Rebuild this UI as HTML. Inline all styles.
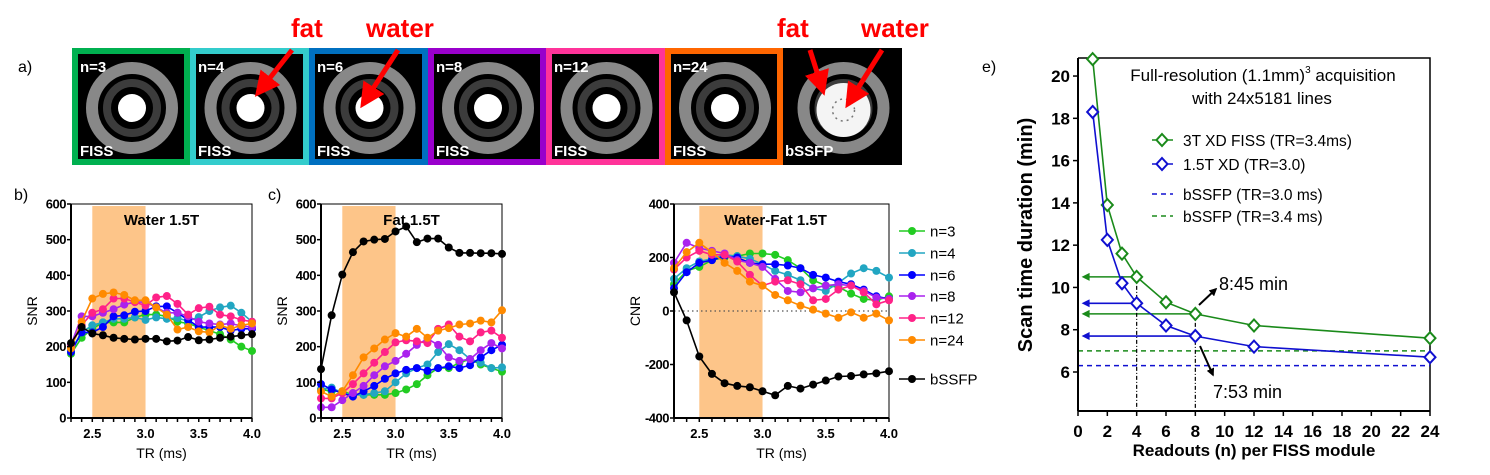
<!DOCTYPE html>
<html><head><meta charset="utf-8">
<style>
html,body{margin:0;padding:0;background:#fff;}
svg{display:block;font-family:"Liberation Sans",Arial,sans-serif;}
</style></head>
<body>
<svg id="fig" width="1490" height="475" viewBox="0 0 1490 475" xmlns="http://www.w3.org/2000/svg">
<defs>
<marker id="ah" viewBox="0 0 10 10" refX="8" refY="5" markerWidth="5" markerHeight="5" orient="auto"><path d="M0,0 L10,5 L0,10 z" fill="#f00"/></marker>
<marker id="ahk" viewBox="0 0 10 10" refX="8" refY="5" markerWidth="4" markerHeight="4" orient="auto"><path d="M0,0 L10,5 L0,10 z" fill="#000"/></marker>
<marker id="ahg" viewBox="0 0 10 10" refX="2" refY="5" markerWidth="6" markerHeight="5" orient="auto-start-reverse"><path d="M0,0 L10,5 L0,10 z" fill="#1a8a1a"/></marker>
<marker id="ahb" viewBox="0 0 10 10" refX="2" refY="5" markerWidth="6" markerHeight="5" orient="auto-start-reverse"><path d="M0,0 L10,5 L0,10 z" fill="#1010d0"/></marker>
</defs>
<text x="18" y="72" font-size="16">a)</text>
<text x="14" y="200" font-size="16">b)</text>
<text x="268" y="200" font-size="16">c)</text>
<text x="982" y="72" font-size="16">e)</text>
<g id="mr"></g>
<g font-weight="bold" font-size="26" fill="#f00">
<text x="291" y="37">fat</text>
<text x="366" y="37">water</text>
<text x="777" y="37">fat</text>
<text x="861" y="37">water</text>
<line x1="292" y1="50" x2="258" y2="93" stroke="#f00" stroke-width="5" marker-end="url(#ah)"/>
<line x1="398" y1="50" x2="363" y2="104" stroke="#f00" stroke-width="5" marker-end="url(#ah)"/>
<line x1="810" y1="50" x2="823" y2="91" stroke="#f00" stroke-width="5" marker-end="url(#ah)"/>
<line x1="882" y1="50" x2="848" y2="104" stroke="#f00" stroke-width="5" marker-end="url(#ah)"/>
</g>
<g id="cb"></g><g id="cc"></g><g id="cd"></g><g id="ce"></g>
</svg>
<script>
const NS="http://www.w3.org/2000/svg";
// ---- data ----
const trValues=[2.3,2.4,2.5,2.6,2.7,2.8,2.9,3.0,3.1,3.2,3.3,3.4,3.5,3.6,3.7,3.8,3.9,4.0];
const seriesNames=["n=3","n=4","n=6","n=8","n=12","n=24","bSSFP"];
const water_n3=[180,225,250,268,268,268,282,290,290,285,270,265,255,245,235,220,200,188];
const water_n4=[190,240,260,268,278,278,282,275,282,278,280,272,283,300,310,315,295,270];
const water_n6=[185,240,240,255,285,288,298,300,313,313,295,275,255,255,255,245,250,250];
const water_n8=[205,285,285,295,305,318,325,325,310,295,295,285,270,265,262,265,258,255];
const water_n12=[200,260,295,305,335,335,325,315,338,342,320,290,308,312,290,285,275,270];
const water_n24=[195,270,335,348,352,345,330,330,310,290,248,255,243,240,260,250,260,265];
const water_bssfp=[210,255,237,232,225,222,220,222,222,215,217,227,218,220,225,228,232,235];
const fat_n3=[80,75,75,65,65,65,65,70,80,95,120,140,140,155,165,150,140,130];
const fat_n4=[80,85,70,65,65,70,75,100,125,140,150,185,207,190,165,155,140,142];
const fat_n6=[95,80,70,60,75,90,110,125,135,140,132,140,145,140,148,170,190,205];
const fat_n8=[30,30,50,70,90,120,145,160,180,205,222,205,170,160,165,190,210,195];
const fat_n12=[55,55,70,95,125,155,185,212,218,215,210,250,262,228,215,240,245,225];
const fat_n24=[75,60,75,120,170,195,220,238,228,250,225,245,252,262,265,273,268,302];
const fat_bssfp=[137,288,402,465,495,500,502,523,537,493,503,503,478,463,463,462,462,460];
const cnr_n3=[100,150,165,190,200,205,215,215,210,190,160,115,95,90,65,45,40,55];
const cnr_n4=[120,160,185,195,210,205,195,175,150,135,115,85,75,105,140,160,150,125];
const cnr_n6=[85,145,180,190,205,200,180,175,175,170,160,135,125,110,100,80,55,45];
const cnr_n8=[180,255,235,225,215,190,180,165,120,75,70,85,95,100,95,75,50,45];
const cnr_n12=[155,200,225,210,210,185,135,95,110,115,100,40,45,80,95,70,25,40];
const cnr_n24=[160,220,255,220,180,150,110,95,60,40,20,5,-10,-25,-5,-25,-10,-35];
const cnr_bssfp=[70,-35,-170,-235,-270,-280,-285,-300,-315,-280,-290,-275,-260,-245,-243,-237,-233,-225];
const snrTicks=[0,100,200,300,400,500,600];
const cnrTicks=[-400,-200,0,200,400];
const trTicks=[2.5,3.0,3.5,4.0];
const readoutN=[1,2,3,4,6,8,12,24];
const scan3T=[20.8,13.9,11.6,10.5,9.3,8.75,8.2,7.6];
const scan15T=[18.3,12.25,10.2,9.25,8.2,7.7,7.2,6.7];
const bssfp30=6.3;
const bssfp34=7.0;
const eXTicks=[0,2,4,6,8,10,12,14,16,18,20,22,24];
const eYTicks=[6,8,10,12,14,16,18,20];
const mrLabels=["n=3","n=4","n=6","n=8","n=12","n=24",""];
const mrBottom=["FISS","FISS","FISS","FISS","FISS","FISS","bSSFP"];
// ---- helpers ----
function mk(tag,attrs,parent){const e=document.createElementNS(NS,tag);for(const k in attrs)e.setAttribute(k,attrs[k]);if(parent)parent.appendChild(e);return e;}
const colors=["#22cc22","#22a6c2","#0000ff","#aa22ee","#ff2288","#ff8a00","#000000"];

// ---- MR strip ----
const mr=document.getElementById('mr');
const frameCols=["#00b050","#33cccc","#0070c0","#9900cc","#ff3399","#ff6600",null];
const frameX=[72,190,309,428,546,665,783];
for(let i=0;i<7;i++){
  const x0=frameX[i],w=(i<6?frameX[i+1]:902)-x0;
  const g=mk('g',{},mr);
  
  
  if(frameCols[i]) mk('rect',{x:x0,y:48,width:w,height:117,fill:frameCols[i]},g);
  const b=frameCols[i]?6:0;
  mk('rect',{x:x0+b,y:48+b,width:w-2*b,height:117-2*b,fill:'#000'},g);
  const cx=x0+w/2+1,cy=108;
  mk('circle',{cx:cx,cy:cy,r:40,fill:'none',stroke:'#888','stroke-width':12},g);
  mk('circle',{cx:cx,cy:cy,r:25,fill:'none',stroke:'#3c3c3c','stroke-width':8},g);
  if(i==6){mk('circle',{cx:cx,cy:cy+2,r:27,fill:'#f4f4f4'},g);
    mk('circle',{cx:cx,cy:cy+2,r:11,fill:'none',stroke:'#777','stroke-width':1.5,'stroke-dasharray':'2 4'},g);}
  else mk('circle',{cx:cx,cy:cy,r:14,fill:'#fff'},g);
  const t1=mk('text',{x:x0+b+2,y:72,fill:'#fff','font-size':15,'font-weight':'bold'},g);t1.textContent=mrLabels[i];
  
  
  const t2=mk('text',{x:x0+b+2,y:156,fill:'#fff','font-size':15,'font-weight':'bold'},g);t2.textContent=mrBottom[i];
  
  
}

// ---- TR charts ----
function trChart(gid,px0,px1,py0,py1,ymin,ymax,yticks,series,title,ylab,zeroLine){
  const g=document.getElementById(gid);
  
  
  const X=v=>px0+(v-2.3)/(4.0-2.3)*(px1-px0);
  const Y=v=>py1-(v-ymin)/(ymax-ymin)*(py1-py0);
  const sh=mk('rect',{x:X(2.5),y:py0+2,width:X(3.0)-X(2.5),height:py1-py0-2,fill:'#fdc589'},g);
  
  
  mk('path',{d:`M${px0},${py0}H${px1}V${py1}`,fill:'none',stroke:'#000','stroke-width':1},g);
  if(zeroLine){const z=mk('line',{x1:px0,x2:px1,y1:Y(0),y2:Y(0),stroke:'#555','stroke-width':1.2,'stroke-dasharray':'1.5 3'},g);
    
    }
  const ttl=mk('text',{x:(px0+px1)/2+(gid=='cd'?-6:0),y:py0+21,'text-anchor':'middle','font-size':15,'font-weight':'bold'},g);ttl.textContent=title;
  
  
  series.forEach((s,si)=>{
    const sg=mk('g',{},g);
    
    
    const d=s.map((v,i)=>(i?'L':'M')+X(trValues[i]).toFixed(1)+','+Y(v).toFixed(1)).join('');
    mk('path',{d:d,fill:'none',stroke:colors[si],'stroke-width':1.6},sg);
    s.forEach((v,i)=>{const c=mk('circle',{cx:X(trValues[i]),cy:Y(v),r:4,fill:colors[si]},sg);
      
      });
  });
  const ax=mk('g',{},g);
  
  
  mk('line',{x1:px0,x2:px0,y1:py0,y2:py1,stroke:'#000','stroke-width':2},ax);
  mk('line',{x1:px0,x2:px1,y1:py1,y2:py1,stroke:'#000','stroke-width':2},ax);
  trValues.forEach(v=>mk('line',{x1:X(v),x2:X(v),y1:py1,y2:py1+4,stroke:'#000','stroke-width':1.5},ax));
  yticks.forEach(v=>{mk('line',{x1:px0-4,x2:px0,y1:Y(v),y2:Y(v),stroke:'#000','stroke-width':1.5},ax);
    const t=mk('text',{x:px0-5,y:Y(v)+4.5,'text-anchor':'end','font-size':13,'font-weight':'bold','letter-spacing':'-0.5'},ax);t.textContent=v;
    
    });
  trTicks.forEach(v=>{const t=mk('text',{x:X(v),y:py1+20,'text-anchor':'middle','font-size':13,'font-weight':'bold'},ax);t.textContent=v.toFixed(1);
    
    });
  const xl=mk('text',{x:(px0+px1)/2,y:py1+40,'text-anchor':'middle','font-size':14},ax);xl.textContent='TR (ms)';
  
  
  const yx=px0-34,yy=(py0+py1)/2;
  const yl=mk('text',{x:yx,y:yy,'text-anchor':'middle','font-size':14,transform:`rotate(-90 ${yx} ${yy})`},ax);yl.textContent=ylab;
  
  
}
trChart('cb',71,252,204,418,0,600,snrTicks,[water_n3,water_n4,water_n6,water_n8,water_n12,water_n24,water_bssfp],'Water 1.5T','SNR',false);
trChart('cc',321,502,204,418,0,600,snrTicks,[fat_n3,fat_n4,fat_n6,fat_n8,fat_n12,fat_n24,fat_bssfp],'Fat 1.5T','SNR',false);
trChart('cd',674,889,204,418,-400,400,cnrTicks,[cnr_n3,cnr_n4,cnr_n6,cnr_n8,cnr_n12,cnr_n24,cnr_bssfp],'Water-Fat 1.5T','CNR',true);
(function(){
  const g=mk('g',{},document.getElementById('fig'));
  
  
  const ys=[231,253,275,296,318,340,379];
  seriesNames.forEach((n,i)=>{
    const e=mk('g',{},g);
    
    
    mk('line',{x1:899,x2:925,y1:ys[i],y2:ys[i],stroke:colors[i],'stroke-width':1.6},e);
    mk('circle',{cx:912,cy:ys[i],r:4,fill:colors[i]},e);
    const t=mk('text',{x:930,y:ys[i]+5.5,'font-size':15},e);t.textContent=n;
  });
})();

// ---- panel e ----
(function(){
  const g=document.getElementById('ce');
  
  
  const px0=1078,px1=1430,py0=58,py1=411;
  const X=v=>px0+v/24*(px1-px0);
  const Y=v=>372-(v-6)*21.14;
  const gC='#1a8a1a',bC='#1010d0';
  mk('path',{d:`M${px0},${py0}H${px1}V${py1}`,fill:'none',stroke:'#000','stroke-width':1.5},g);
  const d1=mk('line',{x1:px0,x2:px1,y1:Y(bssfp34),y2:Y(bssfp34),stroke:gC,'stroke-width':1.5,'stroke-dasharray':'5 4'},g);
  
  
  const d2=mk('line',{x1:px0,x2:px1,y1:Y(bssfp30),y2:Y(bssfp30),stroke:bC,'stroke-width':1.5,'stroke-dasharray':'5 4'},g);
  
  
  [[3,scan3T,gC,'ahg'],[5,scan3T,gC,'ahg'],[3,scan15T,bC,'ahb'],[5,scan15T,bC,'ahb']].forEach(([idx,arr,c,m])=>{
    const l=mk('line',{x1:X(readoutN[idx]),x2:px0+10,y1:Y(arr[idx]),y2:Y(arr[idx]),stroke:c,'stroke-width':1.6,'marker-end':`url(#${m})`},g);
    
    
  });
  [[3,scan3T],[5,scan3T]].forEach(([idx,arr])=>{
    const l=mk('line',{x1:X(readoutN[idx]),x2:X(readoutN[idx]),y1:Y(arr[idx]),y2:py1-2,stroke:'#000','stroke-width':1.2,'stroke-dasharray':'4 2 1 2'},g);
    
    
  });
  [[scan3T,gC,'series-3t-xd-fiss'],[scan15T,bC,'series-1.5t-xd']].forEach(([arr,c,nm])=>{
    const sg=mk('g',{},g);
    
    
    mk('path',{d:arr.map((v,i)=>(i?'L':'M')+X(readoutN[i]).toFixed(1)+','+Y(v).toFixed(1)).join(''),fill:'none',stroke:c,'stroke-width':1.6},sg);
    arr.forEach((v,i)=>{const x=X(readoutN[i]),y=Y(v);
      const p=mk('path',{d:`M${x},${y-6}L${x+5.5},${y}L${x},${y+6}L${x-5.5},${y}Z`,fill:'#fff',stroke:c,'stroke-width':2},sg);
      
      });
  });
  mk('line',{x1:px0,x2:px0,y1:py0,y2:py1,stroke:'#000','stroke-width':2},g);
  mk('line',{x1:px0,x2:px1,y1:py1,y2:py1,stroke:'#000','stroke-width':2},g);
  eXTicks.forEach(v=>{mk('line',{x1:X(v),x2:X(v),y1:py1,y2:py1+5,stroke:'#000','stroke-width':1.5},g);
    const t=mk('text',{x:X(v),y:py1+26,'text-anchor':'middle','font-size':17,'font-weight':'bold'},g);t.textContent=v;
    
    });
  eYTicks.forEach(v=>{mk('line',{x1:px0-5,x2:px0,y1:Y(v),y2:Y(v),stroke:'#000','stroke-width':1.5},g);
    const t=mk('text',{x:px0-8,y:Y(v)+6,'text-anchor':'end','font-size':17,'font-weight':'bold'},g);t.textContent=v;
    
    });
  const xl=mk('text',{x:1254,y:456,'text-anchor':'middle','font-size':17,'font-weight':'bold'},g);xl.textContent='Readouts (n) per FISS module';
  
  
  const yl=mk('text',{x:1032,y:235,'text-anchor':'middle','font-size':20,'font-weight':'bold',transform:'rotate(-90 1032 235)'},g);yl.textContent='Scan time duration (min)';
  
  
  const t1=mk('text',{x:1263,y:81,'text-anchor':'middle','font-size':17},g);
  t1.innerHTML='Full-resolution (1.1mm)<tspan dy="-8" font-size="10">3</tspan><tspan dy="8"> acquisition</tspan>';
  
  
  const t2=mk('text',{x:1262,y:104,'text-anchor':'middle','font-size':17},g);t2.textContent='with 24x5181 lines';
  
  
  const lg=mk('g',{},g);
  
  
  [['3T XD FISS (TR=3.4ms)',gC,140,true],['1.5T XD (TR=3.0)',bC,164,true],['bSSFP (TR=3.0 ms)',bC,194,false],['bSSFP (TR=3.4 ms)',gC,216,false]].forEach(([n,c,y,mark])=>{
    const e=mk('g',{},lg);
    
    
    mk('line',{x1:1152,x2:1173,y1:y,y2:y,stroke:c,'stroke-width':1.6,'stroke-dasharray':mark?'':'5 4'},e);
    if(mark) mk('path',{d:`M1162,${y-6}L1167.5,${y}L1162,${y+6}L1156.5,${y}Z`,fill:'#fff',stroke:c,'stroke-width':2},e);
    const t=mk('text',{x:1183,y:y+6,'font-size':15.5},e);t.textContent=n;
  });
  const a1=mk('line',{x1:1199,y1:305,x2:1216,y2:289,stroke:'#000','stroke-width':2,'marker-end':'url(#ahk)'},g);
  
  
  const a2=mk('line',{x1:1200,y1:346,x2:1213,y2:375,stroke:'#000','stroke-width':2,'marker-end':'url(#ahk)'},g);
  
  
  const l1=mk('text',{x:1219,y:290,'font-size':18},g);l1.textContent='8:45 min';
  
  
  const l2=mk('text',{x:1213,y:398,'font-size':18},g);l2.textContent='7:53 min';
  
  
})();
</script>
</body></html>
